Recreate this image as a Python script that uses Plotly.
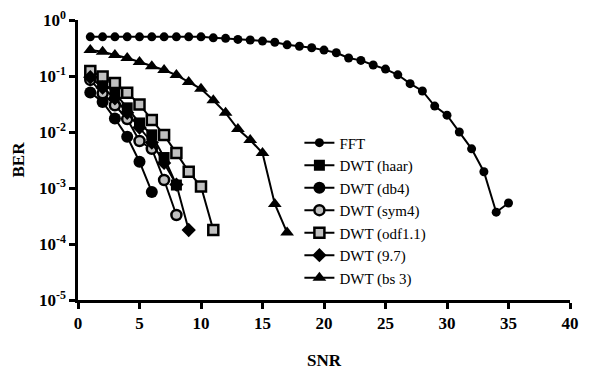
import plotly.graph_objects as go

# ---- data ----
snr_fft = list(range(1, 36))
ber_fft = [0.50, 0.50, 0.50, 0.50, 0.50, 0.50, 0.50, 0.50, 0.50, 0.50,
           0.48, 0.47, 0.45, 0.44, 0.42, 0.40, 0.36, 0.34, 0.32, 0.29,
           0.26, 0.21, 0.19, 0.157, 0.133, 0.105, 0.073, 0.054, 0.029, 0.020,
           0.010, 0.005, 0.00195, 0.00037, 0.00054]

snr_haar = [1, 2, 3, 4, 5, 6, 7, 8]
ber_haar = [0.118, 0.078, 0.050, 0.027, 0.0145, 0.0089, 0.0035, 0.00113]

snr_db4 = [1, 2, 3, 4, 5, 6]
ber_db4 = [0.0507, 0.0343, 0.0174, 0.0082, 0.00295, 0.00085]

snr_sym4 = [1, 2, 3, 4, 5, 6, 7, 8]
ber_sym4 = [0.085, 0.049, 0.030, 0.017, 0.0069, 0.0050, 0.00139, 0.00033]

snr_odf = [1, 2, 3, 4, 5, 6, 7, 8, 9, 10, 11]
ber_odf = [0.123, 0.098, 0.075, 0.050, 0.031, 0.0164, 0.0088, 0.0042, 0.00196, 0.00106, 0.000178]

snr_97 = [1, 2, 3, 4, 5, 6, 7, 8, 9]
ber_97 = [0.095, 0.062, 0.040, 0.022, 0.012, 0.0065, 0.0028, 0.00115, 0.000178]

snr_bs3 = list(range(1, 18))
ber_bs3 = [0.29, 0.27, 0.237, 0.21, 0.178, 0.15, 0.128, 0.104, 0.078, 0.059,
           0.037, 0.022, 0.0113, 0.0072, 0.0042, 0.00052, 0.00016]

y_tickvals = [1e-5, 1e-4, 1e-3, 1e-2, 1e-1, 1]
y_ticktext = ["10<sup>-5</sup>", "10<sup>-4</sup>", "10<sup>-3</sup>",
              "10<sup>-2</sup>", "10<sup>-1</sup>", "10<sup>0</sup>"]
x_tickvals = [0, 5, 10, 15, 20, 25, 30, 35, 40]

FONT = "Liberation Serif"

fig = go.Figure()

def add(x, y, name, symbol, size, color, lw=0):
    fig.add_trace(go.Scatter(
        x=x, y=y, name=name, mode="lines+markers",
        line=dict(color="black", width=2),
        marker=dict(symbol=symbol, size=size, color=color,
                    line=dict(color="black", width=lw)),
    ))

add(snr_fft, ber_fft, "FFT", "circle", 9, "black")
add(snr_haar, ber_haar, "DWT (haar)", "square", 11, "black")
add(snr_db4, ber_db4, "DWT (db4)", "circle", 12, "black")
add(snr_sym4, ber_sym4, "DWT (sym4)", "circle", 10, "#c0c0c0", 2.5)
add(snr_odf, ber_odf, "DWT (odf1.1)", "square", 10, "#c0c0c0", 2.5)
add(snr_97, ber_97, "DWT (9.7)", "diamond", 11, "black")
add(snr_bs3, ber_bs3, "DWT (bs 3)", "triangle-up", 12, "black")

fig.update_layout(
    width=590, height=371,
    margin=dict(l=78, r=20, t=20, b=71),
    paper_bgcolor="white", plot_bgcolor="white",
    font=dict(family=FONT, color="black", size=17),
    showlegend=True,
    legend=dict(x=0.45, y=0.62, xanchor="left", yanchor="top",
                bgcolor="rgba(0,0,0,0)", font=dict(family=FONT, size=15),
                tracegroupgap=0, itemwidth=30),
    xaxis=dict(range=[0, 40], tickvals=x_tickvals, showgrid=False, zeroline=False,
               automargin=False, ticklabeloverflow="allow",
               showline=True, linecolor="black", linewidth=2.5,
               ticks="outside", ticklen=6, tickwidth=2.5, tickcolor="black",
               tickfont=dict(family=FONT, size=17, weight="bold"),
               title=dict(text="SNR", font=dict(family=FONT, size=17, weight="bold"),
                          standoff=22)),
    yaxis=dict(type="log", range=[-5, 0], tickvals=y_tickvals, ticktext=y_ticktext,
               showgrid=False, zeroline=False, automargin=False,
               ticklabeloverflow="allow",
               showline=True, linecolor="black", linewidth=2.5,
               ticks="outside", ticklen=6, tickwidth=2.5, tickcolor="black",
               tickfont=dict(family=FONT, size=17, weight="bold"),
               title=dict(text="BER", font=dict(family=FONT, size=17, weight="bold"),
                          standoff=10)),
)

# remove the default page margin so the figure fills the window exactly
fig.write_html("out.html",
               config={"displayModeBar": False},
               post_script="document.body.style.margin='0';"
                           "document.body.style.overflow='hidden';")
